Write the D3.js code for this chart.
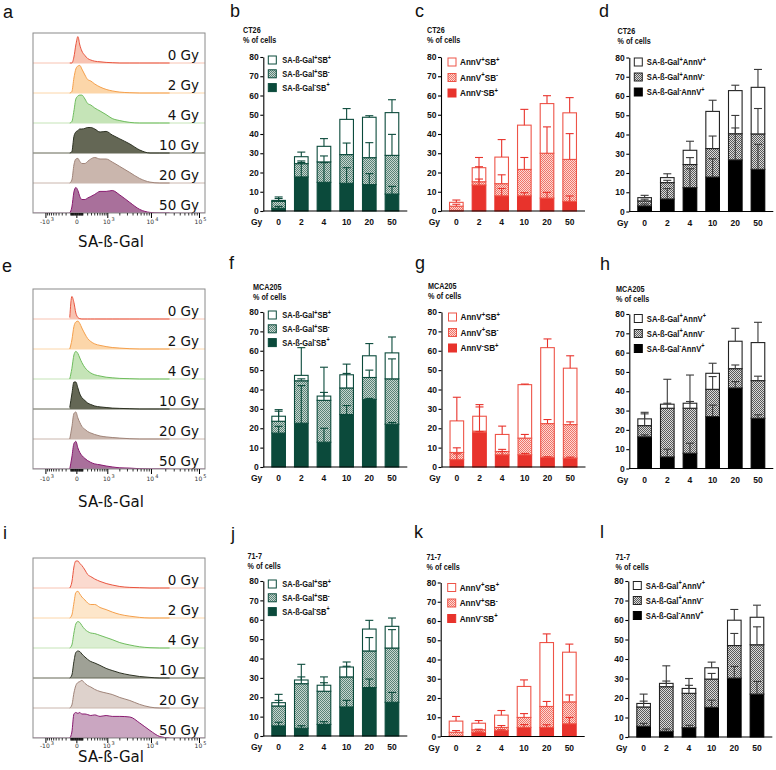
<!DOCTYPE html>
<html>
<head>
<meta charset="utf-8">
<script src="https://cdn.jsdelivr.net/npm/d3@7"></script>
<style>
body { margin: 0; background: #fff; }
</style>
</head>
<body>
<svg id="fig" width="776" height="770"></svg>
<script>
//------------------------------------------------------------
//------------------------------ DADOS -----------------------
var doses = ["0", "2", "4", "10", "20", "50"];
var gyLabels = ["0 Gy", "2 Gy", "4 Gy", "10 Gy", "20 Gy", "50 Gy"];

// pontos do eixo SA-ß-Gal (fluorescencia) onde a densidade foi lida
var histBins = [-120, -80, -45, -15, 15, 45, 80, 140, 200, 280, 400, 600, 900, 1300, 2000, 3400, 5600, 9300, 15000, 24000];
var histMajorTicks = [-1000, 0, 1000, 10000, 100000];
var histTickLabels = [["-10", "3"], ["0", ""], ["10", "3"], ["10", "4"], ["10", "5"]];

// densidades relativas, uma linha por dose
var histCT26 = [
  [0, 0, 0.2, 0.6, 0.88, 0.6, 0.4, 0.25, 0.15, 0.1, 0.06, 0.04, 0.02, 0.01, 0, 0, 0, 0, 0, 0],
  [0, 0.05, 0.5, 0.8, 0.9, 0.92, 0.8, 0.6, 0.45, 0.4, 0.3, 0.2, 0.12, 0.07, 0.03, 0.01, 0, 0, 0, 0],
  [0, 0.05, 0.4, 0.8, 0.9, 0.93, 0.93, 0.8, 0.65, 0.6, 0.5, 0.4, 0.28, 0.15, 0.08, 0.02, 0, 0, 0, 0],
  [0, 0.05, 0.55, 0.7, 0.75, 0.8, 0.8, 0.82, 0.85, 0.85, 0.8, 0.7, 0.72, 0.6, 0.47, 0.3, 0.1, 0, 0, 0],
  [0, 0.1, 0.6, 0.8, 0.82, 0.72, 0.65, 0.65, 0.72, 0.8, 0.85, 0.8, 0.8, 0.7, 0.55, 0.35, 0.15, 0.03, 0, 0],
  [0, 0.2, 0.7, 0.85, 0.75, 0.55, 0.45, 0.45, 0.5, 0.55, 0.62, 0.72, 0.72, 0.75, 0.6, 0.35, 0.12, 0.02, 0, 0]
];
var histMCA205 = [
  [0.05, 0.75, 0.55, 0.2, 0.05, 0.01, 0, 0, 0, 0, 0, 0, 0, 0, 0, 0, 0, 0, 0, 0],
  [0, 0.3, 0.75, 0.9, 0.93, 0.85, 0.7, 0.5, 0.35, 0.25, 0.17, 0.12, 0.08, 0.05, 0.03, 0.01, 0, 0, 0, 0],
  [0, 0.35, 0.8, 0.92, 0.85, 0.7, 0.55, 0.38, 0.28, 0.2, 0.14, 0.1, 0.06, 0.04, 0.02, 0.01, 0, 0, 0, 0],
  [0.05, 0.5, 0.9, 0.9, 0.7, 0.5, 0.38, 0.28, 0.2, 0.15, 0.1, 0.07, 0.05, 0.03, 0.02, 0.01, 0, 0, 0, 0],
  [0, 0.4, 0.85, 0.9, 0.7, 0.55, 0.42, 0.32, 0.25, 0.2, 0.15, 0.1, 0.07, 0.05, 0.03, 0.01, 0, 0, 0, 0],
  [0, 0.4, 0.85, 0.92, 0.7, 0.55, 0.45, 0.35, 0.28, 0.22, 0.17, 0.14, 0.1, 0.07, 0.04, 0.03, 0.01, 0, 0, 0]
];
var hist717 = [
  [0, 0.2, 0.7, 0.9, 0.9, 0.82, 0.75, 0.6, 0.45, 0.38, 0.3, 0.22, 0.15, 0.1, 0.05, 0.02, 0.01, 0, 0, 0],
  [0, 0.1, 0.5, 0.85, 0.89, 0.8, 0.7, 0.6, 0.5, 0.45, 0.45, 0.35, 0.28, 0.2, 0.12, 0.06, 0.02, 0, 0, 0],
  [0, 0.1, 0.5, 0.8, 0.88, 0.85, 0.75, 0.62, 0.55, 0.5, 0.48, 0.42, 0.35, 0.28, 0.18, 0.1, 0.04, 0.01, 0, 0],
  [0, 0.1, 0.55, 0.85, 0.9, 0.88, 0.8, 0.7, 0.62, 0.55, 0.5, 0.42, 0.32, 0.25, 0.17, 0.1, 0.05, 0.02, 0, 0],
  [0, 0.1, 0.5, 0.75, 0.85, 0.88, 0.92, 0.82, 0.75, 0.7, 0.62, 0.55, 0.5, 0.45, 0.35, 0.25, 0.12, 0.03, 0, 0],
  [0, 0.2, 0.8, 0.85, 0.82, 0.85, 0.8, 0.8, 0.78, 0.75, 0.77, 0.72, 0.75, 0.72, 0.72, 0.7, 0.5, 0.25, 0.05, 0]
];

// % de celulas por dose: [solido, hachurado, aberto] (segmentos empilhados) e desvios
var legendGalSB = ["SA-ß-Gal^+SB^+", "SA-ß-Gal^+SB^-", "SA-ß-Gal^-SB^+"];
var legendAnnSB = ["AnnV^+SB^+", "AnnV^+SB^-", "AnnV^-SB^+"];
var legendGalAnn = ["SA-ß-Gal^+AnnV^+", "SA-ß-Gal^+AnnV^-", "SA-ß-Gal^-AnnV^+"];

var ct26GalSB = [[1.4, 3.6, 0.5], [17.7, 6.9, 3.6], [14.9, 10.6, 8.1], [14.4, 14.9, 18.3], [13.7, 14.0, 21.0], [8.8, 20.1, 22.2]];
var ct26GalSBErr = [[1.0, 1.5, 1.8], [7.5, 1.4, 2.4], [10.2, 3.1, 4.0], [8.1, 6.0, 5.6], [5.7, 7.8, 0.8], [4.0, 10.9, 6.7]];
var ct26AnnSB = [[0.3, 2.2, 2.0], [13.5, 1.7, 7.3], [7.9, 6.3, 13.8], [7.9, 13.7, 23.0], [6.7, 23.3, 25.8], [5.0, 21.8, 24.2]];
var ct26AnnSBErr = [[0, 1.0, 1.2], [3.1, 7.8, 5.3], [3.8, 4.6, 9.1], [1.6, 6.2, 8.2], [3.0, 13.7, 4.1], [2.8, 13.4, 7.9]];
var ct26GalAnn = [[2.9, 2.6, 1.7], [6.5, 8.5, 2.6], [12.4, 12.0, 7.4], [17.9, 14.8, 19.3], [26.8, 13.6, 22.4], [21.9, 18.4, 24.2]];
var ct26GalAnnErr = [[1.0, 0.9, 1.2], [5.4, 1.2, 2.0], [9.8, 3.6, 4.7], [9.5, 6.5, 5.8], [16.6, 9.5, 2.8], [13.0, 13.2, 9.3]];

var mca205GalSB = [[17.5, 6.1, 2.6], [22.6, 21.9, 2.8], [12.8, 21.6, 2.2], [27.1, 13.7, 6.8], [34.9, 11.3, 11.2], [22.1, 23.4, 13.4]];
var mca205GalSBErr = [[3.5, 5.2, 3.4], [19.4, 1.0, 14.3], [7.2, 4.1, 14.9], [4.6, 7.5, 5.5], [0.5, 3.8, 6.3], [0.9, 10.3, 8.2]];
var mca205AnnSB = [[3.8, 3.7, 16.3], [17.8, 0.7, 7.7], [6.3, 1.7, 8.8], [6.3, 8.6, 27.6], [5.0, 17.4, 39.2], [4.6, 17.3, 29.1]];
var mca205AnnSBErr = [[3.0, 2.4, 12.2], [0.5, 12.5, 6.0], [1.7, 1.1, 4.3], [0.7, 1.9, 0.3], [0.3, 2.1, 4.5], [0.5, 1.4, 6.4]];
var mca205GalAnn = [[16.4, 5.8, 3.5], [6.0, 25.2, 2.1], [7.9, 23.3, 2.6], [26.9, 14.1, 8.3], [41.7, 10.0, 14.2], [26.0, 19.5, 19.7]];
var mca205GalAnnErr = [[1.0, 6.1, 3.4], [4.0, 2.6, 12.9], [5.2, 3.5, 14.6], [5.9, 6.6, 5.2], [3.3, 1.9, 6.7], [1.8, 2.3, 10.5]];

var l717GalSB = [[5.2, 10.3, 1.7], [4.0, 23.0, 1.9], [6.0, 17.1, 3.1], [15.0, 15.5, 5.1], [25.0, 18.9, 11.3], [17.4, 28.0, 11.2]];
var l717GalSBErr = [[1.9, 2.9, 4.3], [1.3, 3.5, 8.1], [1.4, 4.4, 4.3], [3.4, 5.5, 2.6], [4.4, 6.9, 4.5], [5.1, 9.5, 4.3]];
var l717AnnSB = [[0.2, 2.0, 5.8], [2.1, 1.4, 3.4], [3.1, 1.6, 6.4], [4.7, 5.2, 16.1], [4.7, 10.9, 33.2], [6.6, 11.4, 25.8]];
var l717AnnSBErr = [[0, 0.9, 2.4], [0.3, 0.3, 1.4], [0.4, 1.0, 2.4], [1.5, 2.0, 3.4], [1.4, 2.6, 4.5], [3.3, 3.6, 4.2]];
var l717GalAnn = [[5.5, 9.9, 1.8], [2.9, 22.9, 1.7], [4.8, 17.6, 2.5], [15.2, 14.5, 5.8], [30.2, 16.7, 13.0], [22.0, 25.3, 14.1]];
var l717GalAnnErr = [[1.5, 3.0, 4.8], [1.2, 2.9, 9.0], [1.2, 4.1, 5.1], [3.7, 2.9, 2.9], [6.0, 6.2, 5.5], [6.5, 9.2, 6.2]];

//------------------------------------------------------------
//------------------------------ ESTILOS ---------------------
var svg = d3.select("#fig");
var defs = svg.append("defs");
var fonteBarra = "'Liberation Sans', Arial, sans-serif";
var fonteHist = "'DejaVu Sans', Verdana, sans-serif";
var aperto = 0.85;   // compressao horizontal dos textos das barras (fonte estreita)

var coresHist = [
  {stroke: "#e9543f", fill: "#f8c3b2"},
  {stroke: "#f5a04c", fill: "#fcd6a9"},
  {stroke: "#6fbd5e", fill: "#c5e4b7"},
  {stroke: "#2c3122", fill: "#646755"},
  {stroke: "#a08479", fill: "#cab6ad"},
  {stroke: "#891a70", fill: "#a9709b"}
];

var temas = {
  green: {main: "#0b4a3b", edge: "#0b4a3b", bg: "#c7d6d0", fg: "#5a8377", err: "#0b4a3b",
          sq: 5, tx: 19, ly: 3, step: 13.8, fs: 8.8},
  red:   {main: "#e8332c", edge: "#ee5448", bg: "#fcd9d4", fg: "#f07468", err: "#e8332c",
          sq: 7, tx: 19, ly: 5, step: 15.5, fs: 9.6},
  black: {main: "#000000", edge: "#222222", bg: "#dadada", fg: "#5a5a5a", err: "#3a3a3a",
          sq: 5, tx: 17.5, ly: 4.5, step: 15, fs: 9}
};

Object.keys(temas).forEach(function(k) {
  var t = temas[k];
  var p = defs.append("pattern").attr("id", "hatch-" + k)
    .attr("width", 2).attr("height", 2).attr("patternUnits", "userSpaceOnUse");
  p.append("rect").attr("width", 2).attr("height", 2).attr("fill", t.bg);
  p.append("rect").attr("width", 1).attr("height", 1).attr("fill", t.fg);
  p.append("rect").attr("x", 1).attr("y", 1).attr("width", 1).attr("height", 1).attr("fill", t.fg);
});

//------------------------------------------------------------
//------------------------- FUNCOES AUXILIARES ---------------

// escreve texto com sobrescritos marcados por ^ (ex: "AnnV^+SB^-")
function textoSobrescrito(sel, str, size) {
  var partes = str.split(/(\^.)/);
  var levantado = false;
  partes.forEach(function(s) {
    if (!s) return;
    if (s[0] === "^") {
      sel.append("tspan").attr("font-size", size * 0.72).attr("dy", -size * 0.38).text(s[1]);
      levantado = true;
    } else {
      var t = sel.append("tspan").text(s);
      if (levantado) { t.attr("dy", size * 0.38); levantado = false; }
    }
  });
}

// texto em negrito, levemente comprimido na horizontal
function textoEstreito(g, x, y, size) {
  return g.append("text")
    .attr("transform", "translate(" + x + "," + y + ") scale(" + aperto + ",1)")
    .attr("font-family", fonteBarra).attr("font-weight", "bold").attr("font-size", size + "px")
    .attr("fill", "#111");
}

//------------------------------------------------------------
//------------------------- HISTOGRAMAS ----------------------
function desenhaHistograma(p) {
  var g = svg.append("g");
  var left = 33, right = 205, rowH = 30;
  var bottom = p.top + rowH * 6;
  var x = d3.scaleSymlog().constant(300).domain([-2100, 130000]).range([left, right]);

  var clipId = "clip-" + p.letter;
  defs.append("clipPath").attr("id", clipId)
    .append("rect").attr("x", left).attr("y", p.top).attr("width", right - left).attr("height", bottom - p.top);

  var area = g.append("g").attr("clip-path", "url(#" + clipId + ")");

  p.data.forEach(function(linha, i) {
    var base = p.top + rowH * (i + 1);
    var y = d3.scaleLinear().domain([0, 1]).range([base, base - rowH]);
    var pts = histBins.map(function(b, j) { return [b, linha[j]]; });

    area.append("line")
      .attr("x1", left).attr("x2", right).attr("y1", base).attr("y2", base)
      .attr("stroke", coresHist[i].fill).attr("stroke-width", 1);

    area.append("path").datum(pts)
      .attr("d", d3.area().curve(d3.curveMonotoneX)
        .x(function(d) { return x(d[0]); })
        .y0(base)
        .y1(function(d) { return y(d[1]); }))
      .attr("fill", coresHist[i].fill)
      .attr("fill-opacity", p.fillOp);

    area.append("path").datum(pts)
      .attr("d", d3.line().curve(d3.curveMonotoneX)
        .x(function(d) { return x(d[0]); })
        .y(function(d) { return y(d[1]); }))
      .attr("fill", "none")
      .attr("stroke", coresHist[i].stroke)
      .attr("stroke-width", 1);

    g.append("text")
      .attr("x", 199).attr("y", base - 3)
      .attr("text-anchor", "end")
      .attr("font-family", fonteHist)
      .attr("font-size", "13.5px")
      .attr("fill", "#111")
      .text(gyLabels[i]);
  });

  g.append("rect")
    .attr("x", left).attr("y", p.top).attr("width", right - left).attr("height", bottom - p.top)
    .attr("fill", "none").attr("stroke", "#8a8a8a").attr("stroke-width", 1);

  // marcas do eixo biexponencial
  var menores = d3.range(-900, 0, 100)
    .concat(d3.range(-90, 100, 10).filter(function(v) { return v !== 0; }))
    .concat(d3.range(100, 1000, 100))
    .concat(d3.range(2000, 10000, 1000))
    .concat(d3.range(20000, 100000, 10000));

  g.selectAll(".minor").data(menores).enter().append("line")
    .attr("x1", function(d) { return x(d); }).attr("x2", function(d) { return x(d); })
    .attr("y1", bottom).attr("y2", bottom + 2.5)
    .attr("stroke", "#000").attr("stroke-width", 0.8);

  g.selectAll(".major").data(histMajorTicks).enter().append("line")
    .attr("x1", function(d) { return x(d); }).attr("x2", function(d) { return x(d); })
    .attr("y1", bottom).attr("y2", bottom + 5)
    .attr("stroke", "#000").attr("stroke-width", 1);

  histMajorTicks.forEach(function(v, i) {
    var t = g.append("text")
      .attr("x", x(v) + (i === 1 ? 0 : 1)).attr("y", bottom + p.tickDy)
      .attr("text-anchor", "middle")
      .attr("font-family", fonteHist)
      .attr("font-size", "6px")
      .attr("fill", "#333");
    t.append("tspan").text(histTickLabels[i][0]);
    if (histTickLabels[i][1]) {
      t.append("tspan").attr("font-size", "5px").attr("dy", -3).attr("dx", 1).text(histTickLabels[i][1]);
    }
  });

  g.append("text")
    .attr("x", 111).attr("y", p.labelY)
    .attr("text-anchor", "middle")
    .attr("font-family", fonteHist)
    .attr("font-size", "15px")
    .attr("fill", "#111")
    .text("SA-ß-Gal");
}

//------------------------------------------------------------
//------------------------- BARRAS EMPILHADAS ----------------
function desenhaBarras(p) {
  var t = temas[p.theme];
  var g = svg.append("g");
  var y = d3.scaleLinear().domain([0, 80]).range([p.y0, p.y80]);
  var x = d3.scaleBand().domain(doses).range([p.x0 + 4, p.x0 + 140]).paddingInner(0.4).paddingOuter(0.2);

  var series = d3.stack().keys([0, 1, 2])(p.values);
  var preenche = [t.main, "url(#hatch-" + p.theme + ")", "#fff"];

  series.forEach(function(camada, i) {
    g.selectAll(".seg" + i).data(camada).enter().append("rect")
      .attr("x", function(d, j) { return x(doses[j]); })
      .attr("y", function(d) { return y(d[1]); })
      .attr("width", x.bandwidth())
      .attr("height", function(d) { return Math.max(0, y(d[0]) - y(d[1])); })
      .attr("fill", preenche[i])
      .attr("stroke", i === 0 ? t.main : t.edge)
      .attr("stroke-width", 1.1);
  });

  // barras de erro (so para cima)
  series.forEach(function(camada, i) {
    camada.forEach(function(d, j) {
      var e = p.errs[j][i];
      if (!e) return;
      var cx = x(doses[j]) + x.bandwidth() / 2;
      g.append("line")
        .attr("x1", cx).attr("x2", cx)
        .attr("y1", y(d[1])).attr("y2", y(d[1] + e))
        .attr("stroke", t.err).attr("stroke-width", 1.1);
      g.append("line")
        .attr("x1", cx - 4).attr("x2", cx + 4)
        .attr("y1", y(d[1] + e)).attr("y2", y(d[1] + e))
        .attr("stroke", t.err).attr("stroke-width", 1.1);
    });
  });

  // eixo y
  var eixoY = g.append("g")
    .attr("transform", "translate(" + p.x0 + ",0)")
    .call(d3.axisLeft(y).tickValues(d3.range(0, 81, 10)).tickSize(3).tickSizeOuter(0).tickPadding(1.5));
  eixoY.selectAll("path, line").attr("stroke", "#000").attr("stroke-width", 1.1);
  eixoY.selectAll("text")
    .attr("font-family", fonteBarra).attr("font-weight", "bold").attr("font-size", "8.5px").attr("fill", "#111");

  // eixo x
  g.append("line")
    .attr("x1", p.x0).attr("x2", p.x0 + 144)
    .attr("y1", p.y0).attr("y2", p.y0)
    .attr("stroke", "#000").attr("stroke-width", 1.1);

  g.selectAll(".dose").data(doses).enter().append("text")
    .attr("x", function(d) { return x(d) + x.bandwidth() / 2; })
    .attr("y", p.y0 + 14)
    .attr("text-anchor", "middle")
    .attr("font-family", fonteBarra).attr("font-weight", "bold").attr("font-size", "8.5px")
    .attr("fill", "#111")
    .text(function(d) { return d; });

  g.append("text")
    .attr("x", p.x0 - 1).attr("y", p.y0 + 14)
    .attr("text-anchor", "end")
    .attr("font-family", fonteBarra).attr("font-weight", "bold").attr("font-size", "8.5px")
    .attr("fill", "#111")
    .text("Gy");

  // titulo
  textoEstreito(g, p.tx, p.ty, 8.5).text(p.line);
  textoEstreito(g, p.tx, p.ty + 10, 8.5).text("% of cells");

  // legenda (de cima para baixo: aberto, hachurado, solido)
  var ordem = [2, 1, 0];
  p.legend.forEach(function(rotulo, k) {
    var cy = p.y80 + t.ly + k * t.step;
    var idx = ordem[k];
    g.append("rect")
      .attr("x", p.x0 + t.sq).attr("y", cy - 4)
      .attr("width", 8).attr("height", 8)
      .attr("fill", preenche[idx])
      .attr("stroke", idx === 0 ? t.main : t.edge)
      .attr("stroke-width", 1);
    var txt = textoEstreito(g, p.x0 + t.tx, cy + t.fs * 0.36, t.fs);
    textoSobrescrito(txt, rotulo, t.fs);
  });
}

//------------------------------------------------------------
//------------------------------ MONTAGEM --------------------
var histPaineis = [
  {letter: "a", top: 33, data: histCT26, fillOp: 1, labelY: 247, tickDy: 11},
  {letter: "e", top: 289, data: histMCA205, fillOp: 1, labelY: 507, tickDy: 12},
  {letter: "i", top: 558, data: hist717, fillOp: 0.62, labelY: 762, tickDy: 10}
];
histPaineis.forEach(desenhaHistograma);

var barPaineis = [
  {x0: 263.3, y0: 211, y80: 57, tx: 243, ty: 33, line: "CT26", theme: "green", legend: legendGalSB, values: ct26GalSB, errs: ct26GalSBErr},
  {x0: 441, y0: 211, y80: 57, tx: 427, ty: 33, line: "CT26", theme: "red", legend: legendAnnSB, values: ct26AnnSB, errs: ct26AnnSBErr},
  {x0: 629.3, y0: 211.5, y80: 57.5, tx: 617.5, ty: 34, line: "CT26", theme: "black", legend: legendGalAnn, values: ct26GalAnn, errs: ct26GalAnnErr},
  {x0: 263.3, y0: 467, y80: 312, tx: 253, ty: 290, line: "MCA205", theme: "green", legend: legendGalSB, values: mca205GalSB, errs: mca205GalSBErr},
  {x0: 441.5, y0: 467, y80: 312, tx: 428, ty: 289, line: "MCA205", theme: "red", legend: legendAnnSB, values: mca205AnnSB, errs: mca205AnnSBErr},
  {x0: 629.3, y0: 468.5, y80: 314, tx: 616, ty: 291.5, line: "MCA205", theme: "black", legend: legendGalAnn, values: mca205GalAnn, errs: mca205GalAnnErr},
  {x0: 263.3, y0: 736, y80: 581, tx: 247.5, ty: 559, line: "71-7", theme: "green", legend: legendGalSB, values: l717GalSB, errs: l717GalSBErr},
  {x0: 440.7, y0: 736.5, y80: 582.5, tx: 426.5, ty: 560, line: "71-7", theme: "red", legend: legendAnnSB, values: l717AnnSB, errs: l717AnnSBErr},
  {x0: 628.3, y0: 737, y80: 581, tx: 615.5, ty: 560, line: "71-7", theme: "black", legend: legendGalAnn, values: l717GalAnn, errs: l717GalAnnErr}
];
barPaineis.forEach(desenhaBarras);

// letras dos paineis
var letras = [
  ["a", 3, 18], ["b", 230, 17], ["c", 415, 17], ["d", 599, 17],
  ["e", 2, 272], ["f", 229, 269], ["g", 415, 269], ["h", 600, 270],
  ["i", 3, 539], ["j", 231, 540], ["k", 414, 538], ["l", 600, 538]
];
svg.selectAll(".letra").data(letras).enter().append("text")
  .attr("x", function(d) { return d[1]; })
  .attr("y", function(d) { return d[2]; })
  .attr("font-family", fonteBarra)
  .attr("font-size", "18px")
  .attr("fill", "#111")
  .text(function(d) { return d[0]; });
</script>
</body>
</html>
